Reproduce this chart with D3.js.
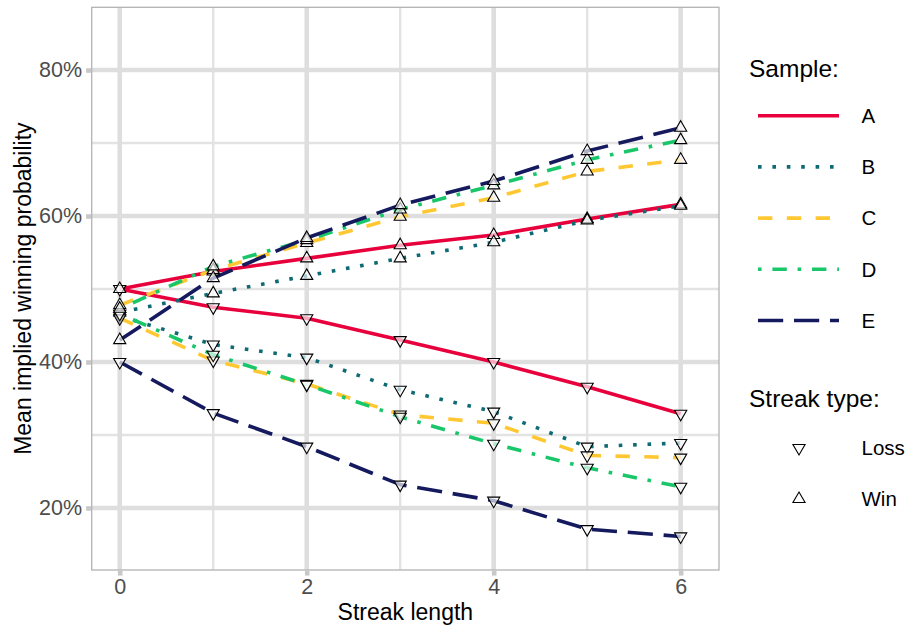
<!DOCTYPE html>
<html>
<head>
<meta charset="utf-8">
<script src="https://cdn.jsdelivr.net/npm/d3@7"></script>
<style>
  html, body { margin: 0; padding: 0; background: #ffffff; }
  svg { display: block; font-family: "Liberation Sans", Arial, Helvetica, sans-serif; }
</style>
</head>
<body>
<svg id="chart" width="908" height="626"></svg>
<script>
// Streak lengths on the x axis
const streakLength = [0, 1, 2, 3, 4, 5, 6];

// Sample names
const samples = ["A", "B", "C", "D", "E"];

// Mean implied winning probability (%) after a win streak
const winA = [50.0, 52.4, 54.2, 56.0, 57.4, 59.6, 61.6];
const winB = [46.8, 49.4, 51.8, 54.2, 56.4, 59.4, 61.4];
const winC = [47.8, 52.6, 56.3, 59.9, 62.5, 66.1, 67.7];
const winD = [47.3, 53.1, 56.7, 60.9, 64.2, 67.7, 70.4];
const winE = [43.0, 51.5, 57.0, 61.5, 64.8, 68.9, 72.1];

// Mean implied winning probability (%) after a loss streak
const lossA = [50.0, 47.5, 46.0, 43.0, 40.0, 36.6, 32.9];
const lossB = [46.3, 42.4, 40.6, 36.2, 33.2, 28.4, 28.9];
const lossC = [46.0, 40.2, 37.0, 32.8, 31.6, 27.2, 26.9];
const lossD = [46.6, 41.0, 36.9, 32.5, 28.8, 25.5, 22.9];
const lossE = [40.0, 33.0, 28.4, 23.2, 21.0, 17.1, 16.1];

// Axis ticks
const yMajorTicks = [20, 40, 60, 80];
const yMinorTicks = [30, 50, 70];
const xMajorTicks = [0, 2, 4, 6];
const xMinorTicks = [1, 3, 5];

// Streak types
const streakTypes = ["Loss", "Win"];

const winValues = { A: winA, B: winB, C: winC, D: winD, E: winE };
const lossValues = { A: lossA, B: lossB, C: lossC, D: lossD, E: lossE };

const colors = { A: "#E8003D", B: "#0F6B73", C: "#FFC832", D: "#19C76A", E: "#151A5E" };
const lw = 3.6;
const dashes = {
  A: null,
  B: `${lw} ${lw * 3}`,
  C: `${lw * 4} ${lw * 4}`,
  D: `${lw} ${lw * 3} ${lw * 4} ${lw * 3}`,
  E: `${lw * 7} ${lw * 3}`
};

const FONT = "Liberation Sans, Arial, sans-serif";
const svg = d3.select("#chart");
const panel = { left: 91.7, right: 719, top: 7.3, bottom: 570 };

const x = d3.scaleLinear().domain([-0.3, 6.41]).range([panel.left, panel.right]);
const y = d3.scaleLinear().domain([11.5, 88.6]).range([panel.bottom, panel.top]);

const grid = svg.append("g");
// minor grid
grid.selectAll(".ymin").data(yMinorTicks).join("line")
  .attr("x1", panel.left).attr("x2", panel.right)
  .attr("y1", d => y(d)).attr("y2", d => y(d))
  .attr("stroke", "#e3e3e3").attr("stroke-width", 2.4);
grid.selectAll(".xmin").data(xMinorTicks).join("line")
  .attr("y1", panel.top).attr("y2", panel.bottom)
  .attr("x1", d => x(d)).attr("x2", d => x(d))
  .attr("stroke", "#e3e3e3").attr("stroke-width", 2.4);
// major grid
grid.selectAll(".ymaj").data(yMajorTicks).join("line")
  .attr("x1", panel.left).attr("x2", panel.right)
  .attr("y1", d => y(d)).attr("y2", d => y(d))
  .attr("stroke", "#dedede").attr("stroke-width", 4.6);
grid.selectAll(".xmaj").data(xMajorTicks).join("line")
  .attr("y1", panel.top).attr("y2", panel.bottom)
  .attr("x1", d => x(d)).attr("x2", d => x(d))
  .attr("stroke", "#dedede").attr("stroke-width", 4.6);

// panel border
svg.append("rect")
  .attr("x", panel.left).attr("y", panel.top)
  .attr("width", panel.right - panel.left).attr("height", panel.bottom - panel.top)
  .attr("fill", "none").attr("stroke", "#b3b3b3").attr("stroke-width", 1.3);

// axes
const yAxis = d3.axisLeft(y).tickValues(yMajorTicks).tickSize(5).tickPadding(4)
  .tickFormat(d => d + "%");
const gy = svg.append("g").attr("transform", `translate(${panel.left - 0.6},0)`).call(yAxis);
gy.select(".domain").remove();
gy.selectAll(".tick line").attr("stroke", "#c8c8c8").attr("stroke-width", 4.6);
gy.selectAll(".tick text").attr("fill", "#4d4d4d").attr("font-size", 21.5)
  .attr("font-family", FONT);

const xAxis = d3.axisBottom(x).tickValues(xMajorTicks).tickSize(5).tickPadding(3)
  .tickFormat(d3.format("d"));
const gx = svg.append("g").attr("transform", `translate(0,${panel.bottom + 0.6})`).call(xAxis);
gx.select(".domain").remove();
gx.selectAll(".tick line").attr("stroke", "#c8c8c8").attr("stroke-width", 4.6);
gx.selectAll(".tick text").attr("fill", "#4d4d4d").attr("font-size", 21.5)
  .attr("font-family", FONT);

// axis titles
svg.append("text")
  .attr("x", (panel.left + panel.right) / 2).attr("y", 619.5)
  .attr("text-anchor", "middle").attr("font-size", 23).attr("fill", "#000")
  .text("Streak length");
svg.append("text")
  .attr("transform", `translate(31,${(panel.top + panel.bottom) / 2}) rotate(-90)`)
  .attr("text-anchor", "middle").attr("font-size", 23).attr("fill", "#000")
  .text("Mean implied winning probability");

// lines
const line = d3.line().x((d, i) => x(streakLength[i])).y(d => y(d));
const lines = svg.append("g");
samples.forEach(s => {
  [winValues[s], lossValues[s]].forEach(vals => {
    lines.append("path")
      .attr("d", line(vals))
      .attr("fill", "none")
      .attr("stroke", colors[s])
      .attr("stroke-width", lw)
      .attr("stroke-dasharray", dashes[s])
      .attr("stroke-linejoin", "round");
  });
});

// markers
const tri = d3.symbol().type(d3.symbolTriangle).size(64);
const pts = svg.append("g");
samples.forEach(s => {
  lossValues[s].forEach((v, i) => {
    pts.append("path").attr("d", tri())
      .attr("transform", `translate(${x(streakLength[i])},${y(v)}) rotate(180)`)
      .attr("fill", "rgba(255,255,255,0.65)").attr("stroke", "#000").attr("stroke-width", 1.1);
  });
  winValues[s].forEach((v, i) => {
    pts.append("path").attr("d", tri())
      .attr("transform", `translate(${x(streakLength[i])},${y(v)})`)
      .attr("fill", "rgba(255,255,255,0.65)").attr("stroke", "#000").attr("stroke-width", 1.1);
  });
});

// legend: samples
const leg = svg.append("g");
leg.append("text").attr("x", 749).attr("y", 77).attr("font-size", 24.5).attr("fill", "#000").text("Sample:");
samples.forEach((s, i) => {
  const cy = 115.7 + i * 51.2;
  leg.append("line")
    .attr("x1", 758).attr("x2", 839).attr("y1", cy).attr("y2", cy)
    .attr("stroke", colors[s]).attr("stroke-width", lw)
    .attr("stroke-dasharray", dashes[s]);
  leg.append("text").attr("x", 861.5).attr("y", cy + 7.3).attr("font-size", 20.5).attr("fill", "#000").text(s);
});

// legend: streak types
leg.append("text").attr("x", 749).attr("y", 407).attr("font-size", 24.5).attr("fill", "#000").text("Streak type:");
streakTypes.forEach((t, i) => {
  const cy = 448 + i * 51;
  leg.append("path").attr("d", tri())
    .attr("transform", `translate(799,${cy})${t === "Loss" ? " rotate(180)" : ""}`)
    .attr("fill", "#fff").attr("stroke", "#000").attr("stroke-width", 1.1);
  leg.append("text").attr("x", 861.5).attr("y", cy + 7.3).attr("font-size", 20.5).attr("fill", "#000").text(t);
});
</script>
</body>
</html>
